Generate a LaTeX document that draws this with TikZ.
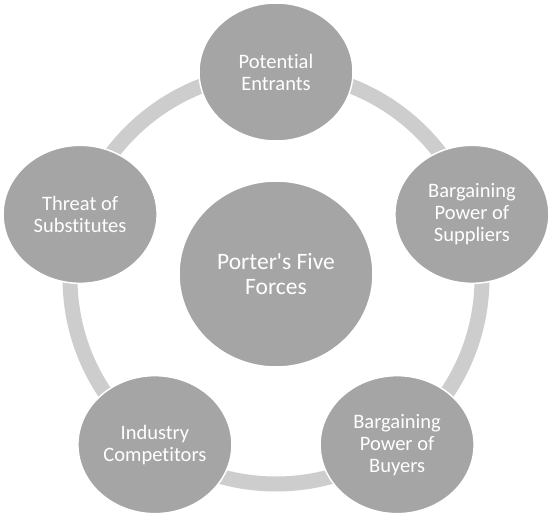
\documentclass[tikz,border=0pt]{standalone}
\usepackage{fontspec}
\setmainfont{Carlito}[Ligatures=NoCommon]
\usepackage{tikz}
\usetikzlibrary{shapes.geometric,calc}
\usepackage{xcolor}
\definecolor{forcegrey}{HTML}{A5A5A5}
\definecolor{ringgrey}{HTML}{CDCDCD}

\begin{document}
\begin{tikzpicture}[x=1pt,y=1pt,
  force/.style={ellipse,draw=white,line width=1.5pt,fill=forcegrey,text=white,inner sep=0pt,
    minimum width=154pt,minimum height=138pt,align=center,font=\fontsize{20.5}{22}\selectfont},
  hub/.style={force,minimum width=194pt,minimum height=186pt,font=\fontsize{23.5}{25}\selectfont}]
\useasboundingbox (0,0) rectangle (554,528);
\coordinate (ring) at (276,250);
\draw[ringgrey,line width=15pt] (ring) circle[radius=206];
\node[hub] (porter) at (276,254) {Porter\textquotesingle s Five\\Forces};
\node[force] (entrants) at ($(ring)+(90:206)$) {Potential\\Entrants};
\node[force] (suppliers) at ($(ring)+(18:206)$) {Bargaining\\Power of\\Suppliers};
\node[force] (buyers) at ($(ring)+(306:206)$) {Bargaining\\Power of\\Buyers};
\node[force] (rivals) at ($(ring)+(234:206)$) {Industry\\Competitors};
\node[force] (substitutes) at ($(ring)+(162:206)$) {Threat of\\Substitutes};
\end{tikzpicture}
\end{document}
